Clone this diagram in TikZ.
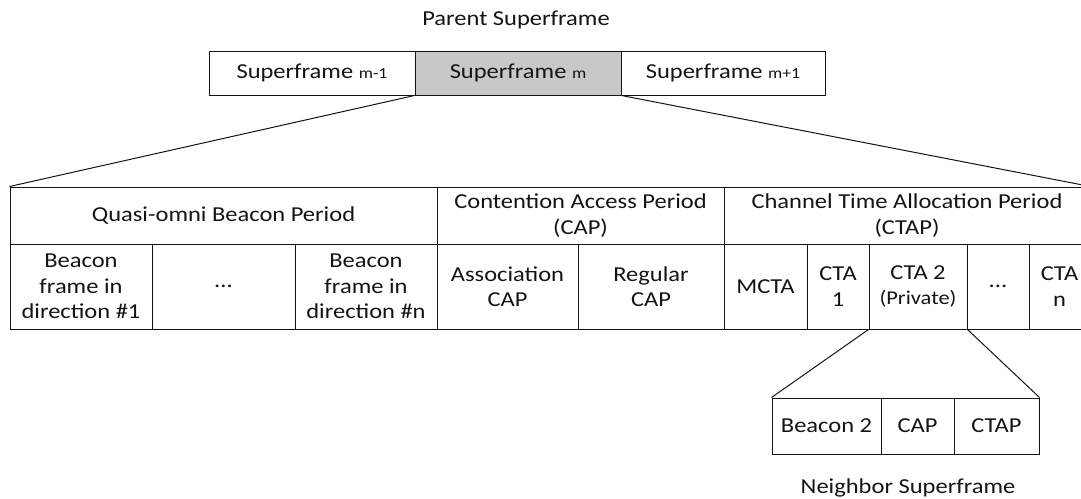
\documentclass[tikz,border=0pt]{standalone}
\usepackage{fontspec}
\setmainfont{Carlito}[FakeStretch=1.15]
\definecolor{framegray}{RGB}{200,200,200}
\definecolor{inkcol}{RGB}{20,20,20}
\newcommand{\sub}[1]{{\fontsize{15.5}{18}\selectfont #1}}
\newcommand{\smalltxt}[1]{{\fontsize{19.5}{23}\selectfont #1}}
\tikzset{
  cell/.style={draw=inkcol, line width=1pt, rectangle, inner sep=0pt, align=center,
    text=inkcol, font=\fontsize{21.3}{25.5}\selectfont},
  label/.style={inner sep=0pt, text=inkcol, font=\fontsize{21.3}{25.5}\selectfont},
  fan/.style={draw=inkcol, line width=1pt}
}
\begin{document}
\begin{tikzpicture}[x=1pt, y=-1pt]
\useasboundingbox (0,0) rectangle (1081,498);
\clip (0,0) rectangle (1081,498);

% parent superframe
\node[label] (ptitle) at (516,20) {Parent Superframe};
\node[cell, minimum width=206pt, minimum height=44pt] (sfA) at (312,73) {Superframe \sub{m-1}};
\node[cell, fill=framegray, minimum width=206pt, minimum height=44pt] (sfB) at (518,73) {Superframe \sub{m}};
\node[cell, minimum width=204pt, minimum height=44pt] (sfC) at (723,73) {Superframe \sub{m+1}};

% header row of the expanded superframe
\node[cell, minimum width=427pt, minimum height=57pt] (qob) at (223.5,215.5) {Quasi-omni Beacon Period};
\node[cell, minimum width=287pt, minimum height=57pt] (cap) at (580.5,215.5) {Contention Access Period\\(CAP)};
\node[cell, minimum width=366pt, minimum height=57pt] (ctap) at (907,215.5) {Channel Time Allocation Period\\(CTAP)};

% sub-period row
\node[cell, minimum width=142pt, minimum height=85pt] (b1) at (81,286.5) {Beacon\\frame in\\direction \#1};
\node[cell, minimum width=143pt, minimum height=85pt] (bdots) at (223.5,286.5) {...};
\node[cell, minimum width=142pt, minimum height=85pt] (bn) at (366,286.5) {Beacon\\frame in\\direction \#n};
\node[cell, minimum width=141pt, minimum height=85pt] (acap) at (507.5,286.5) {Association\\CAP};
\node[cell, minimum width=146pt, minimum height=85pt] (rcap) at (651,286.5) {Regular\\CAP};
\node[cell, minimum width=83pt, minimum height=85pt] (mcta) at (765.5,286.5) {MCTA};
\node[cell, minimum width=62pt, minimum height=85pt] (cta1) at (838,286.5) {CTA\\1};
\node[cell, minimum width=98pt, minimum height=85pt] (cta2) at (918,286.5) {CTA 2\\\smalltxt{(Private)}};
\node[cell, minimum width=62pt, minimum height=85pt] (cdots) at (998,286.5) {...};
\node[cell, minimum width=61pt, minimum height=85pt] (ctan) at (1059.5,286.5) {CTA\\n};

% neighbor superframe
\node[cell, minimum width=109pt, minimum height=56pt] (nb) at (826.5,426) {Beacon 2};
\node[cell, minimum width=73pt, minimum height=56pt] (ncap) at (917.5,426) {CAP};
\node[cell, minimum width=85pt, minimum height=56pt] (nctap) at (996.5,426) {CTAP};
\node[label] (ntitle) at (908,488) {Neighbor Superframe};

% expansion lines
\draw[fan] (sfB.south west) -- (qob.north west);
\draw[fan] (sfB.south east) -- (ctap.north east);
\draw[fan] (cta2.south west) -- (nb.north west);
\draw[fan] (cta2.south east) -- (nctap.north east);
\end{tikzpicture}
\end{document}
